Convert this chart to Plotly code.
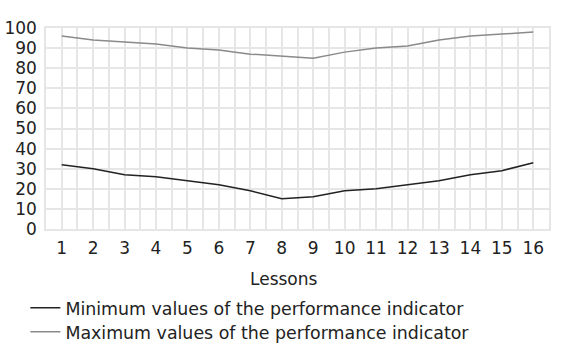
import plotly.graph_objects as go

lessons = list(range(1, 17))
min_values = [32, 30, 27, 26, 24, 22, 19, 15, 16, 19, 20, 22, 24, 27, 29, 33]
max_values = [96, 94, 93, 92, 90, 89, 87, 86, 85, 88, 90, 91, 94, 96, 97, 98]
y_ticks = list(range(0, 101, 10))

font = "DejaVu Sans, Liberation Sans, Arial, sans-serif"
grid = "#e6e6e6"
txt = "#222222"
FS = 17

fig = go.Figure()
fig.add_trace(go.Scatter(x=lessons, y=min_values, mode="lines",
                         name="Minimum values of the performance indicator",
                         line=dict(color="#222222", width=1.5), legend="legend"))
fig.add_trace(go.Scatter(x=lessons, y=max_values, mode="lines",
                         name="Maximum values of the performance indicator",
                         line=dict(color="#8a8a8a", width=1.5), legend="legend2"))

leg_common = dict(xanchor="left", yanchor="middle", font=dict(size=17.4, color=txt, family=font),
                  itemwidth=30, bgcolor="rgba(0,0,0,0)", borderwidth=0)
fig.update_layout(
    width=568, height=354,
    margin=dict(l=46, r=19, t=28, b=125, autoexpand=False),
    paper_bgcolor="white", plot_bgcolor="white",
    font=dict(family=font, size=FS, color=txt),
    showlegend=True,
    legend=dict(x=-0.041, y=(229 - 308) / 201, **leg_common),
    legend2=dict(x=-0.041, y=(229 - 332) / 201, **leg_common),
    annotations=[dict(text="Lessons", xref="paper", yref="paper",
                      x=(284 - 46) / 503, y=(229 - 279) / 201, xanchor="center", yanchor="middle",
                      showarrow=False, font=dict(size=FS, color=txt, family=font))],
)
fig.update_xaxes(range=[0.5, 16.5], tickvals=lessons, ticktext=[str(v) for v in lessons],
                 showgrid=True, gridcolor=grid, gridwidth=1.5,
                 minor=dict(dtick=0.5, tick0=0.5, showgrid=True, gridcolor=grid, gridwidth=1.5),
                 showline=True, linecolor=grid, linewidth=1.5, mirror=True,
                 ticks="", ticklabelstandoff=3, zeroline=False, fixedrange=True)
fig.update_yaxes(range=[0, 100], tickvals=y_ticks, ticktext=[str(v) for v in y_ticks],
                 showgrid=True, gridcolor=grid, gridwidth=1.5,
                 showline=True, linecolor=grid, linewidth=1.5, mirror=True,
                 ticks="", ticklabelstandoff=4, zeroline=False, fixedrange=True)

fig.write_html("out.html")
